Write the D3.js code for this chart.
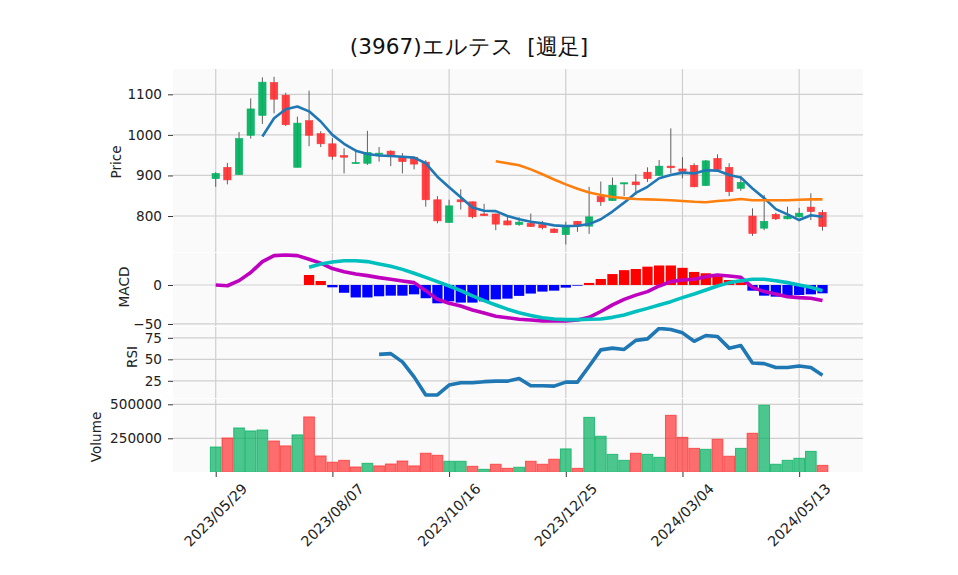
<!DOCTYPE html>
<html><head><meta charset="utf-8">
<script src="https://cdn.jsdelivr.net/npm/d3@7"></script>
<style>
html,body{margin:0;padding:0;background:#fff;}
svg text{font-family:"DejaVu Sans",sans-serif;}
</style></head>
<body>
<svg id="chart" width="958" height="575"></svg>
<script>
const dates = ["2023/05/29","2023/06/05","2023/06/12","2023/06/19","2023/06/26","2023/07/03","2023/07/10","2023/07/17","2023/07/24","2023/07/31",
"2023/08/07","2023/08/14","2023/08/21","2023/08/28","2023/09/04","2023/09/11","2023/09/18","2023/09/25","2023/10/02","2023/10/09",
"2023/10/16","2023/10/23","2023/10/30","2023/11/06","2023/11/13","2023/11/20","2023/11/27","2023/12/04","2023/12/11","2023/12/18",
"2023/12/25","2024/01/01","2024/01/08","2024/01/15","2024/01/22","2024/01/29","2024/02/05","2024/02/12","2024/02/19","2024/02/26",
"2024/03/04","2024/03/11","2024/03/18","2024/03/25","2024/04/01","2024/04/08","2024/04/15","2024/04/22","2024/04/29","2024/05/06",
"2024/05/13","2024/05/20","2024/05/27"];
const tickLabels = ["2023/05/29","2023/08/07","2023/10/16","2023/12/25","2024/03/04","2024/05/13"];

const opens  = [892,920,902,999,1048,1129,1098,920,1035,1003,978,949,930,930,952,960,947,945,933,840,784,840,835,805,805,788,779,782,779,768,754,787,775,848,838,880,884,908,900,923,916,925,875,942,920,868,800,770,804,793,798,822,809];
const highs  = [908,931,1007,1090,1142,1143,1104,1045,1109,1009,992,967,965,1010,970,962,955,946,938,849,840,866,836,830,806,798,797,806,788,770,786,788,872,885,895,882,903,920,938,1016,945,930,938,952,930,899,819,852,808,823,820,856,815];
const lows   = [872,878,902,991,1027,1053,1022,920,972,970,939,905,929,926,934,923,905,915,823,782,784,816,794,800,765,777,776,773,767,758,730,761,756,825,837,849,852,884,899,905,893,871,874,914,849,862,751,765,790,792,797,790,764];
const closes = [905,889,991,1064,1130,1088,1025,1029,999,978,947,945,932,957,955,951,934,928,840,788,825,835,798,801,780,778,785,774,771,759,777,775,798,835,876,882,877,892,923,919,910,872,936,915,860,883,757,787,793,800,807,811,774];
const volumes = [186000,252000,326000,304000,311000,230000,194000,275000,407000,120000,74000,88000,39000,66000,47000,61000,83000,47000,140000,125000,
81000,81000,44000,22000,59000,29000,37000,81000,59000,96000,172000,29000,404000,265000,132000,88000,140000,132000,110000,419000,
257000,176000,169000,243000,118000,176000,287000,493000,59000,88000,103000,154000,51000];

const ma5 = [null,null,null,null,996,1041,1063,1070,1058,1033,1000,978,961,953,949,948,946,944,930,897,871,846,821,813,812,800,792,786,782,777,775,776,780,792,811,833,857,872,893,901,907,905,913,912,901,895,868,844,817,804,790,802,798];
const ma25 = [null,null,null,null,null,null,null,null,null,null,null,null,null,null,null,null,null,null,null,null,null,null,null,null,
935,930,925,915,903,890,878,867,858,852,847,844,842,841,840,839,837,835,834,837,839,842,839,839,839,839,840,841,841];

const macd = [0,-1,5.6,16,30,37.6,38.5,37.6,33,28,21,17,14,12,9.4,7.3,5,3,-7.3,-18.4,-23.5,-27,-32,-36,-40,-42,-44,-45,-46,-46,-46,-45,-41.5,-34,-25.6,-18.4,-13,-8.5,-1.3,4.3,6.4,7.3,10.7,12.8,11.5,9.8,-3,-8.5,-11.5,-15,-16.2,-17,-20];
const signal = [null,null,null,null,null,null,null,null,22.6,27,29.5,31,31,30,27,24,20,15,9.8,4.3,-1.3,-7.3,-14,-20,-25.6,-31,-35.5,-39,-42,-43.6,-44.4,-44.4,-44,-43.6,-41.5,-38.5,-34,-30,-25.6,-21.4,-16.2,-11.5,-6.4,-1.3,3,5.5,7.3,7.3,5.5,3,0,-3,-7.3];
const hist = [null,null,null,null,null,null,null,null,12.8,5.1,-3,-10,-16,-16,-14.5,-13.7,-13.7,-12,-17,-23.5,-21,-22.6,-22.6,-21,-18.4,-17.5,-14,-11,-8.5,-7.3,-3.4,-0.9,2.6,7.7,14,19,20.5,23.5,25,25,22,16.7,15,10.7,6.4,3.4,-7.3,-13.7,-15,-14,-12.8,-12,-10.7];
const rsi = [null,null,null,null,null,null,null,null,null,null,null,null,null,null,55.8,56.6,47,29.6,8.5,8.5,20,22.7,22.7,24,24.6,24.6,27.7,19.2,19.2,18.8,23.5,23.5,42,61,63,61.5,72,73.8,86,84.6,80.8,71,77.7,76.5,63,66,45.8,45,40.4,40.4,42.3,40.4,31.5];

const priceTicks = [800,900,1000,1100];
const macdTicks = [-50,0];
const rsiTicks = [25,50,75];
const volTicks = [250000,500000];

const svg = d3.select("#chart");
const L = 173, R = 863;
const panels = {
  price:{top:69,bottom:252},
  macd:{top:253,bottom:326},
  rsi:{top:327,bottom:398},
  vol:{top:399,bottom:472}
};
const n = dates.length;
const x = d3.scaleLinear().domain([-3.66,55.47]).range([L,R]);
const step = x(1)-x(0);
const yP = d3.scaleLinear().domain([711.3,1162.4]).range([252,69]);
const yM = d3.scaleLinear().domain([-52.6,41]).range([326,253]);
const yR = d3.scaleLinear().domain([5,87.6]).range([398,327]);
const yV = d3.scaleLinear().domain([0,539000]).range([472.3,399]);

const UP = "#00b060", DOWN = "#fe3032";
const GRID = "#cfcfcf";
const FS = "13.6px";

Object.entries(panels).forEach(([k,p])=>{
  svg.append("rect").attr("x",L).attr("y",p.top).attr("width",R-L).attr("height",p.bottom-p.top).attr("fill","#fafafa");
  svg.append("clipPath").attr("id","clip-"+k).append("rect").attr("x",L).attr("y",p.top).attr("width",R-L).attr("height",p.bottom-p.top);
});

const tickIdx = tickLabels.map(t=>dates.indexOf(t));
Object.values(panels).forEach(p=>{
  svg.append("g").selectAll("line").data(tickIdx).join("line")
    .attr("x1",d=>x(d)).attr("x2",d=>x(d)).attr("y1",p.top).attr("y2",p.bottom)
    .attr("stroke",GRID).attr("stroke-width",1.2);
});
function hgrid(scale,ticks){
  svg.append("g").selectAll("line").data(ticks).join("line")
    .attr("x1",L).attr("x2",R).attr("y1",d=>scale(d)).attr("y2",d=>scale(d))
    .attr("stroke",GRID).attr("stroke-width",1.2);
}
hgrid(yP,priceTicks); hgrid(yM,macdTicks); hgrid(yR,rsiTicks); hgrid(yV,volTicks);

function yaxis(scale,ticks,fmt){
  const g = svg.append("g").attr("transform",`translate(${L},0)`)
    .call(d3.axisLeft(scale).tickValues(ticks).tickSize(5).tickPadding(6).tickFormat(fmt));
  g.select(".domain").remove();
  g.selectAll("line").attr("stroke","#333");
  g.selectAll("text").attr("font-size",FS).attr("fill","#222").attr("font-family","DejaVu Sans");
}
yaxis(yP,priceTicks,d=>d);
yaxis(yM,macdTicks,d=>d<0?"\u2212"+Math.abs(d):d);
yaxis(yR,rsiTicks,d=>d);
yaxis(yV,volTicks,d=>d);

function ylabel(txt,cx,cy){
  svg.append("text").attr("transform",`translate(${cx},${cy}) rotate(-90)`)
    .attr("text-anchor","middle").attr("dominant-baseline","central")
    .attr("font-size",FS).attr("fill","#222").text(txt);
}
ylabel("Price",116,162);
ylabel("MACD",124,287);
ylabel("RSI",132,357);
ylabel("Volume",96,437);

const xg = svg.append("g").attr("transform",`translate(0,${panels.vol.bottom})`)
  .call(d3.axisBottom(x).tickValues(tickIdx).tickSize(5).tickFormat(""));
xg.select(".domain").remove();
xg.selectAll("line").attr("stroke","#333");
svg.append("g").selectAll("text").data(tickIdx).join("text")
  .attr("transform",d=>`translate(${x(d)},515) rotate(-45)`)
  .attr("text-anchor","middle").attr("dominant-baseline","central")
  .attr("font-size","14.2px").attr("fill","#222")
  .text(d=>dates[d]);

const idx = d3.range(n);
const cg = svg.append("g").attr("clip-path","url(#clip-price)");
cg.selectAll("line.wick").data(idx).join("line")
  .attr("x1",i=>x(i)).attr("x2",i=>x(i)).attr("y1",i=>yP(highs[i])).attr("y2",i=>yP(lows[i]))
  .attr("stroke","#606060").attr("stroke-width",1);
const bw = step*0.63;
cg.selectAll("rect.body").data(idx).join("rect")
  .attr("x",i=>x(i)-bw/2).attr("width",bw)
  .attr("y",i=>yP(Math.max(opens[i],closes[i])))
  .attr("height",i=>Math.max(1.2,Math.abs(yP(opens[i])-yP(closes[i]))))
  .attr("fill",i=>closes[i]>=opens[i]?UP:DOWN)
  .attr("fill-opacity",0.92)
  .attr("stroke",i=>closes[i]>=opens[i]?UP:DOWN).attr("stroke-opacity",0.92).attr("stroke-width",0.6);

function linePath(scale,arr,color,w,clip){
  const ln = d3.line().defined(d=>d!=null).x((d,i)=>x(i)).y(d=>scale(d));
  svg.append("path").attr("clip-path",`url(#clip-${clip})`).attr("d",ln(arr))
    .attr("fill","none").attr("stroke",color).attr("stroke-width",w)
    .attr("stroke-linejoin","round").attr("stroke-linecap","butt");
}
linePath(yP,ma5,"#1f77b4",2.6,"price");
linePath(yP,ma25,"#ff7f0e",2.6,"price");

const hw = step*0.88;
svg.append("g").attr("clip-path","url(#clip-macd)").selectAll("rect").data(idx.filter(i=>hist[i]!=null)).join("rect")
  .attr("x",i=>x(i)-hw/2).attr("width",hw)
  .attr("y",i=>Math.min(yM(0),yM(hist[i])))
  .attr("height",i=>Math.abs(yM(hist[i])-yM(0)))
  .attr("fill",i=>hist[i]>=0?"#ff0000":"#0000ff");
linePath(yM,macd,"#bf00bf",3.6,"macd");
linePath(yM,signal,"#00bfbf",3.6,"macd");

linePath(yR,rsi,"#1f77b4",3.6,"rsi");

const vw = step;
svg.append("g").attr("clip-path","url(#clip-vol)").selectAll("rect").data(idx).join("rect")
  .attr("x",i=>x(i)-vw/2+0.5).attr("width",vw-1)
  .attr("y",i=>yV(volumes[i])).attr("height",i=>yV(0)-yV(volumes[i]))
  .attr("fill",i=>(i===0||closes[i]>=closes[i-1])?UP:DOWN).attr("fill-opacity",0.7)
  .attr("stroke",i=>(i===0||closes[i]>=closes[i-1])?UP:DOWN).attr("stroke-opacity",0.75).attr("stroke-width",1);

svg.append("text").attr("x",469).attr("y",54).attr("text-anchor","middle")
  .attr("font-size","21.6px").attr("fill","#111")
  .attr("font-family","'Noto Sans CJK JP','DejaVu Sans',sans-serif")
  .style("white-space","pre")
  .text("(3967)エルテス  [週足]");
</script>
</body></html>
